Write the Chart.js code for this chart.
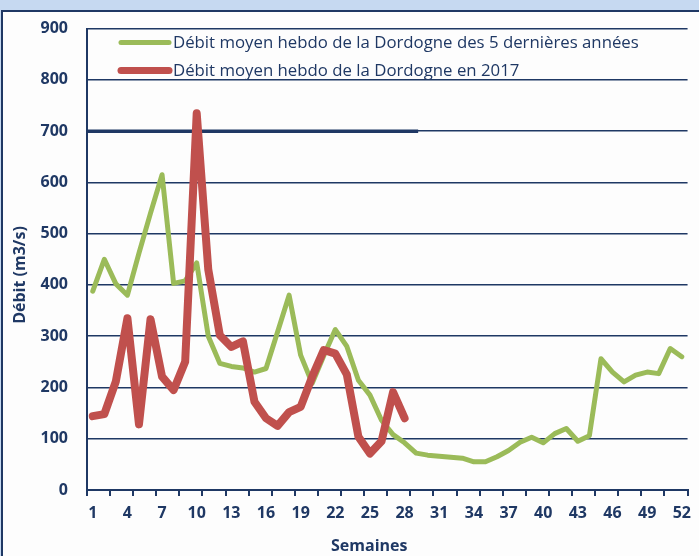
<!DOCTYPE html>
<html>
<head>
<meta charset="utf-8">
<script src="https://cdn.jsdelivr.net/npm/chart.js@4"></script>
<style>
  html, body { margin: 0; padding: 0; width: 699px; height: 556px; overflow: hidden; background: #c6d9f1; }
  #panel { position: absolute; left: 1px; top: 10px; width: 760px; height: 600px; border: 2px solid #1f3864; background: #fdfdfd; }
  #debitChart { position: absolute; left: 0; top: 0; }
</style>
</head>
<body>
<div id="panel"></div>
<canvas id="debitChart" width="699" height="556"></canvas>
<script>
// semaines 1..52
var weeks = [1, 2, 3, 4, 5, 6, 7, 8, 9, 10, 11, 12, 13, 14, 15, 16, 17, 18, 19, 20, 21, 22, 23, 24, 25, 26,
  27, 28, 29, 30, 31, 32, 33, 34, 35, 36, 37, 38, 39, 40, 41, 42, 43, 44, 45, 46, 47, 48, 49, 50, 51, 52];
// moyenne des 5 dernieres annees (m3/s)
var debit5ans = [388, 450, 402, 380, 462, 540, 615, 403, 408, 443, 300, 247, 241, 238, 230, 237, 308, 380,
  263, 208, 262, 313, 280, 214, 185, 136, 108, 92, 72, 68, 66, 64, 62, 55, 55, 65, 77, 93, 103, 92, 110, 120,
  95, 106, 256, 230, 211, 224, 230, 227, 276, 260];
// 2017, semaines 1 a 28
var debit2017 = [144, 148, 212, 335, 128, 333, 221, 195, 250, 735, 430, 302, 279, 290, 172, 140, 125, 152,
  162, 221, 273, 266, 225, 104, 71, 95, 191, 140];
var yTicks = [0, 100, 200, 300, 400, 500, 600, 700, 800, 900];
var xTitle = 'Semaines';
var yTitle = 'Débit (m3/s)';

var navy = '#1f3864';
var fontFamily = '"Open Sans", sans-serif';

// legende dessinee dans la zone du graphique
var insideLegend = {
  id: 'insideLegend',
  afterDatasetsDraw: function (chart) {
    var ctx = chart.ctx;
    var area = chart.chartArea;
    var sets = chart.data.datasets;
    ctx.save();
    ctx.font = '16.8px ' + fontFamily;
    ctx.textBaseline = 'middle';
    ctx.lineCap = 'round';
    for (var i = 0; i < sets.length; i++) {
      var y = area.top + 14 + i * 28;
      ctx.strokeStyle = sets[i].borderColor;
      ctx.lineWidth = i === 0 ? 5 : 7;
      ctx.beginPath();
      ctx.moveTo(area.left + 34, y);
      ctx.lineTo(area.left + 82, y);
      ctx.stroke();
      ctx.fillStyle = navy;
      ctx.fillText(sets[i].label, area.left + 86, y + 1);
    }
    ctx.restore();
  }
};

// titres des axes (un peu decales comme dans Excel)
var axisTitles = {
  id: 'axisTitles',
  afterDraw: function (chart) {
    var ctx = chart.ctx;
    var area = chart.chartArea;
    ctx.save();
    ctx.fillStyle = navy;
    ctx.font = 'bold 16px ' + fontFamily;
    ctx.textAlign = 'center';
    ctx.textBaseline = 'middle';
    ctx.fillText(xTitle, (area.left + area.right) / 2 - 18, 546);
    ctx.translate(20, area.bottom - 215);
    ctx.rotate(-Math.PI / 2);
    ctx.fillText(yTitle, 0, 0);
    ctx.restore();
  }
};

// la ligne 700 est plus epaisse sur la moitie gauche
var thickLine = {
  id: 'thickLine',
  beforeDatasetsDraw: function (chart) {
    var ctx = chart.ctx;
    var y = chart.scales.y.getPixelForValue(700);
    ctx.save();
    ctx.strokeStyle = navy;
    ctx.lineWidth = 3.5;
    ctx.beginPath();
    ctx.moveTo(chart.chartArea.left, y);
    ctx.lineTo(chart.scales.x.getPixelForValue(28) + 2, y);
    ctx.stroke();
    ctx.restore();
  }
};

var dctx = document.getElementById('debitChart').getContext('2d');
var debitChart = new Chart(dctx, {
  type: 'line',
  data: {
    labels: weeks,
    datasets: [{
      label: 'Débit moyen hebdo de la Dordogne des 5 dernières années',
      data: debit5ans,
      borderColor: '#9bbb59',
      borderWidth: 5,
      order: 2
    }, {
      label: 'Débit moyen hebdo de la Dordogne en 2017',
      data: debit2017,
      borderColor: '#c0504d',
      borderWidth: 8,
      order: 1
    }]
  },
  options: {
    responsive: false,
    animation: false,
    layout: {
      padding: { left: 3, top: 28, right: 7, bottom: 0 }
    },
    elements: {
      point: { radius: 0 },
      line: { tension: 0, borderJoinStyle: 'round', borderCapStyle: 'round' }
    },
    plugins: {
      legend: { display: false },
      tooltip: { enabled: false }
    },
    scales: {
      x: {
        offset: true,
        grid: {
          offset: true,
          drawOnChartArea: false,
          tickLength: 6,
          lineWidth: 2,
          color: function (c) {
            return (c.index === undefined || c.index % 2 === 0) ? navy : 'rgba(0,0,0,0)';
          }
        },
        border: { color: navy, width: 2 },
        ticks: {
          autoSkip: false,
          maxRotation: 0,
          padding: 8,
          color: navy,
          font: { family: fontFamily, size: 16, weight: 'bold' },
          callback: function (v, i) {
            return i % 3 === 0 ? this.getLabelForValue(v) : '';
          }
        },
        afterFit: function (scale) { scale.height = 66; }
      },
      y: {
        min: 0,
        max: 900,
        afterBuildTicks: function (scale) {
          scale.ticks = yTicks.map(function (v) { return { value: v }; });
        },
        ticks: {
          color: navy,
          padding: 19,
          font: { family: fontFamily, size: 16, weight: 'bold' }
        },
        grid: { color: navy, lineWidth: 1.5, drawTicks: false },
        border: { color: navy, width: 2 },
        afterFit: function (scale) { scale.width = 84; }
      }
    }
  },
  plugins: [thickLine, insideLegend, axisTitles]
});
</script>
</body>
</html>
